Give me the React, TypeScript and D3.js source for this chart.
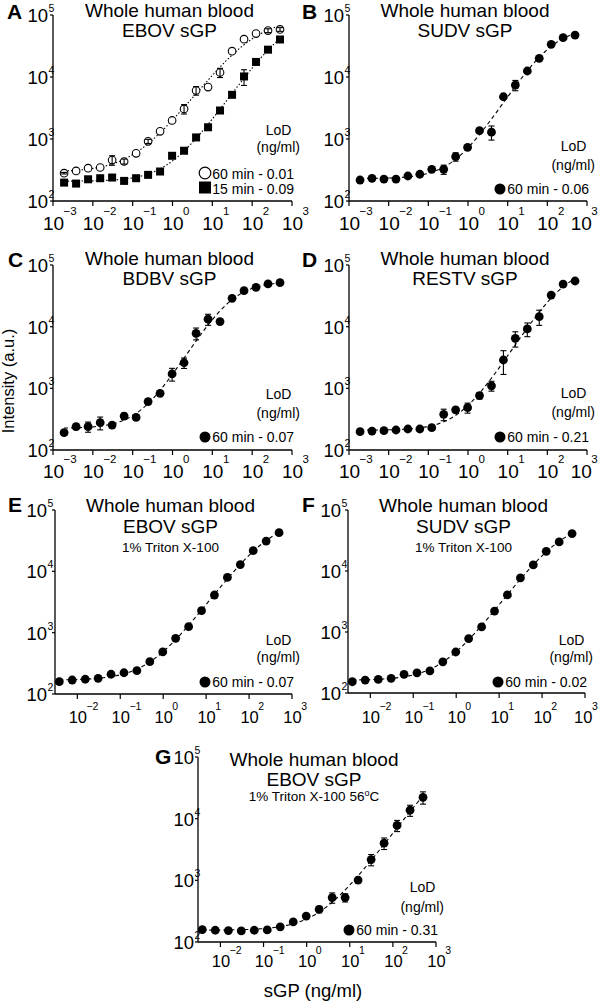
import React from "react";
import * as d3 from "d3";

const FONT = "'Liberation Sans', Arial, Helvetica, sans-serif";

// Two-fold dilution series of sGP (ng/ml)
const conc19 = [0.0019, 0.0038, 0.0076, 0.0153, 0.0305, 0.061, 0.122, 0.244, 0.488, 0.977, 1.95, 3.91, 7.81, 15.6, 31.3, 62.5, 125, 250, 500];
const conc18 = [0.0038, 0.0076, 0.0153, 0.0305, 0.061, 0.122, 0.244, 0.488, 0.977, 1.95, 3.91, 7.81, 15.6, 31.3, 62.5, 125, 250, 500];

// Intensity (a.u.) values and error bars
const a60 = [281, 306, 339, 347, 457, 434, 587, 917, 1330, 1990, 3060, 6060, 6880, 11800, 26100, 40800, 50200, 56000, 58500];
const a60Err = [8, 0, 0, 0, 80, 40, 0, 70, 0, 0, 530, 960, 0, 2000, 0, 0, 0, 4000, 4000];
const a15 = [198, 191, 224, 233, 239, 211, 233, 264, 299, 536, 647, 1060, 1545, 2880, 5160, 10200, 17500, 27600, 40300];
const a15Err = [0, 0, 0, 0, 0, 0, 0, 0, 0, 0, 0, 0, 0, 0, 0, 2900, 0, 0, 0];
const bVals = [218, 232, 226, 226, 253, 270, 324, 324, 519, 734, 1360, 1290, 4800, 7400, 12500, 20000, 33600, 43000, 47500];
const bErr = [0, 0, 0, 0, 0, 0, 0, 55, 80, 0, 0, 330, 0, 1400, 0, 0, 0, 0, 0];
const cVals = [191, 239, 239, 277, 254, 355, 338, 609, 830, 1710, 2600, 7800, 13200, 12100, 28800, 38300, 43400, 49300, 51600];
const cErr = [0, 25, 45, 65, 0, 40, 0, 60, 0, 400, 500, 1700, 2700, 0, 0, 0, 0, 0, 0];
const dVals = [198, 203, 206, 211, 219, 219, 230, 379, 446, 486, 762, 1100, 2880, 6460, 9180, 14500, 32500, 49000, 55000];
const dErr = [0, 0, 0, 0, 0, 0, 0, 80, 0, 90, 90, 200, 1200, 1800, 2300, 4000, 0, 0, 0];
const eVals = [159, 169, 174, 180, 210, 222, 240, 336, 485, 809, 1250, 2280, 4110, 7960, 12900, 21700, 31200, 42700];
const eErr = [0, 0, 0, 0, 0, 0, 0, 0, 0, 0, 0, 0, 0, 0, 0, 0, 0, 0];
const fVals = [153, 163, 167, 174, 202, 214, 231, 324, 470, 779, 1210, 2200, 4050, 7700, 12600, 21000, 30000, 41100];
const fErr = [0, 0, 0, 0, 0, 0, 0, 0, 0, 0, 0, 0, 0, 0, 0, 0, 0, 0];
const gVals = [159, 155, 153, 151, 155, 157, 176, 212, 263, 338, 525, 525, 1010, 2170, 4010, 7770, 13700, 22200];
const gErr = [0, 0, 0, 0, 0, 0, 0, 0, 0, 40, 100, 80, 0, 450, 850, 1600, 2800, 5000];

// Tick labels
const xTicks7 = [1e-3, 1e-2, 1e-1, 1, 10, 100, 1000];
const xExps7 = ["\u22123", "\u22122", "\u22121", "0", "1", "2", "3"];
const xTicks6 = [1e-2, 1e-1, 1, 10, 100, 1000];
const xExps6 = ["\u22122", "\u22121", "0", "1", "2", "3"];
const yTicks = [100, 1000, 10000, 100000];
const yExps = ["2", "3", "4", "5"];

// LoD legends
const lodA = ["60 min - 0.01", "15 min - 0.09"];
const lodB = ["60 min - 0.06"];
const lodC = ["60 min - 0.07"];
const lodD = ["60 min - 0.21"];
const lodE = ["60 min - 0.07"];
const lodF = ["60 min - 0.02"];
const lodG = ["60 min - 0.31"];

function fit4pl(xs: number[], ys: number[]) {
  const lx = xs.map(Math.log10);
  const ly = ys.map(Math.log10);
  const model = (p: number[], l: number) => {
    const b = Math.pow(10, p[0]);
    const t = Math.pow(10, p[1]);
    return Math.log10(b + (t - b) / (1 + Math.pow(10, p[3] * (p[2] - l))));
  };
  const loss = (p: number[]) => {
    let s = 0;
    for (let i = 0; i < lx.length; i++) {
      const d = model(p, lx[i]) - ly[i];
      s += d * d;
    }
    return isFinite(s) ? s : 1e9;
  };
  const lo = d3.min(ly) as number;
  const hi = d3.max(ly) as number;
  const midV = Math.log10((Math.pow(10, lo) + Math.pow(10, hi)) / 2);
  let bi = 0;
  ly.forEach((v, i) => {
    if (Math.abs(v - midV) < Math.abs(ly[bi] - midV)) bi = i;
  });
  const start = [lo, hi + 0.05, lx[bi], 1];
  const n = 4;
  const steps = [0.1, 0.1, 0.4, 0.3];
  let simplex: number[][] = [start];
  for (let i = 0; i < n; i++) {
    const p = start.slice();
    p[i] += steps[i];
    simplex.push(p);
  }
  let vals = simplex.map(loss);
  for (let it = 0; it < 4000; it++) {
    const idx = d3.range(n + 1).sort((a, b) => vals[a] - vals[b]);
    simplex = idx.map((i) => simplex[i]);
    vals = idx.map((i) => vals[i]);
    const cen = d3.range(n).map((j) => (d3.mean(simplex.slice(0, n), (p) => p[j]) as number));
    const w = simplex[n];
    const xr = cen.map((c, j) => c + (c - w[j]));
    const fr = loss(xr);
    if (fr < vals[0]) {
      const xe = cen.map((c, j) => c + 2 * (c - w[j]));
      const fe = loss(xe);
      if (fe < fr) { simplex[n] = xe; vals[n] = fe; } else { simplex[n] = xr; vals[n] = fr; }
    } else if (fr < vals[n - 1]) {
      simplex[n] = xr; vals[n] = fr;
    } else {
      const xc = cen.map((c, j) => c + 0.5 * (w[j] - c));
      const fc = loss(xc);
      if (fc < vals[n]) { simplex[n] = xc; vals[n] = fc; }
      else {
        for (let i = 1; i <= n; i++) {
          simplex[i] = simplex[i].map((v, j) => simplex[0][j] + 0.5 * (v - simplex[0][j]));
          vals[i] = loss(simplex[i]);
        }
      }
    }
  }
  const best = simplex[d3.minIndex(vals)];
  const l0 = lx[0], l1 = lx[lx.length - 1];
  return d3.range(0, 121).map((i) => {
    const l = l0 + ((l1 - l0) * i) / 120;
    return [Math.pow(10, l), Math.pow(10, model(best, l))] as [number, number];
  });
}

type Series = { xs: number[]; ys: number[]; err: number[]; marker: string; dash: string };

type PanelCfg = {
  letter: string; lx: number; ly: number;
  x0: number; x1: number; yTop: number; yBot: number; xMin: number;
  xTicks: number[]; xExps: string[]; xFont: number; xSup: number; xDy: number; xSupDy: number;
  yGap: number;
  titles: string[]; titleDy: number[]; subText?: string; subDegree?: boolean;
  series: Series[];
  legend: string[]; legendMarkers: string[];
  lodDy: number; ngDy: number; rowDy: number[];
};

const panels: PanelCfg[] = [
  {
    letter: "A", lx: 7, ly: 19, x0: 53, x1: 292, yTop: 15, yBot: 201, xMin: 1e-3,
    xTicks: xTicks7, xExps: xExps7, xFont: 19, xSup: 11.5, xDy: 29, xSupDy: 15, yGap: 5,
    titles: ["Whole human blood", "EBOV sGP"], titleDy: [2, 22],
    series: [
      { xs: conc19, ys: a60, err: a60Err, marker: "open", dash: "1.5 2" },
      { xs: conc19, ys: a15, err: a15Err, marker: "square", dash: "1.5 2" },
    ],
    legend: lodA, legendMarkers: ["open", "square"], lodDy: -66, ngDy: -49, rowDy: [-22, -7],
  },
  {
    letter: "B", lx: 302, ly: 19, x0: 349, x1: 587, yTop: 15, yBot: 201, xMin: 1e-3,
    xTicks: xTicks7, xExps: xExps7, xFont: 19, xSup: 11.5, xDy: 29, xSupDy: 15, yGap: 5,
    titles: ["Whole human blood", "SUDV sGP"], titleDy: [2, 22],
    series: [{ xs: conc19, ys: bVals, err: bErr, marker: "circle", dash: "4 3" }],
    legend: lodB, legendMarkers: ["circle"], lodDy: -50, ngDy: -31, rowDy: [-7],
  },
  {
    letter: "C", lx: 8, ly: 267, x0: 53, x1: 292, yTop: 265, yBot: 450, xMin: 1e-3,
    xTicks: xTicks7, xExps: xExps7, xFont: 19, xSup: 11.5, xDy: 28, xSupDy: 15, yGap: 5,
    titles: ["Whole human blood", "BDBV sGP"], titleDy: [0, 20],
    series: [{ xs: conc19, ys: cVals, err: cErr, marker: "circle", dash: "4 3" }],
    legend: lodC, legendMarkers: ["circle"], lodDy: -51, ngDy: -32, rowDy: [-8],
  },
  {
    letter: "D", lx: 302, ly: 267, x0: 349, x1: 587, yTop: 265, yBot: 450, xMin: 1e-3,
    xTicks: xTicks7, xExps: xExps7, xFont: 19, xSup: 11.5, xDy: 28, xSupDy: 15, yGap: 5,
    titles: ["Whole human blood", "RESTV sGP"], titleDy: [0, 20],
    series: [{ xs: conc19, ys: dVals, err: dErr, marker: "circle", dash: "4 3" }],
    legend: lodD, legendMarkers: ["circle"], lodDy: -52, ngDy: -33, rowDy: [-8],
  },
  {
    letter: "E", lx: 8, ly: 512, x0: 55, x1: 292, yTop: 510, yBot: 694, xMin: 0.00302,
    xTicks: xTicks6, xExps: xExps6, xFont: 16.5, xSup: 10.5, xDy: 29, xSupDy: 13, yGap: 8,
    titles: ["Whole human blood", "EBOV sGP"], titleDy: [2, 23], subText: "1% Triton X-100",
    series: [{ xs: conc18, ys: eVals, err: eErr, marker: "circle", dash: "4 3" }],
    legend: lodE, legendMarkers: ["circle"], lodDy: -49, ngDy: -32, rowDy: [-7],
  },
  {
    letter: "F", lx: 302, ly: 512, x0: 348, x1: 585, yTop: 510, yBot: 693, xMin: 0.00302,
    xTicks: xTicks6, xExps: xExps6, xFont: 16.5, xSup: 10.5, xDy: 30, xSupDy: 13, yGap: 7,
    titles: ["Whole human blood", "SUDV sGP"], titleDy: [2, 23], subText: "1% Triton X-100",
    series: [{ xs: conc18, ys: fVals, err: fErr, marker: "circle", dash: "4 3" }],
    legend: lodF, legendMarkers: ["circle"], lodDy: -48, ngDy: -31, rowDy: [-6],
  },
  {
    letter: "G", lx: 155, ly: 764, x0: 198, x1: 436, yTop: 757, yBot: 942, xMin: 0.00302,
    xTicks: xTicks6, xExps: xExps6, xFont: 16.5, xSup: 10.5, xDy: 25, xSupDy: 13, yGap: 4,
    titles: ["Whole human blood", "EBOV sGP"], titleDy: [9, 29], subText: "1% Triton X-100 56", subDegree: true,
    series: [{ xs: conc18, ys: gVals, err: gErr, marker: "circle", dash: "4 3" }],
    legend: lodG, legendMarkers: ["circle"], lodDy: -50, ngDy: -30, rowDy: [-7],
  },
];

function Marker({ kind, cx, cy, size }: { kind: string; cx: number; cy: number; size: number }) {
  if (kind === "open") return <circle cx={cx} cy={cy} r={size} fill="#fff" stroke="#000" strokeWidth={1.1} />;
  if (kind === "square") return <rect x={cx - size} y={cy - size} width={size * 2} height={size * 2} fill="#000" />;
  return <circle cx={cx} cy={cy} r={size} fill="#000" />;
}

function Panel({ p }: { p: PanelCfg }) {
  const x = d3.scaleLog().domain([p.xMin, 1000]).range([p.x0, p.x1]);
  const y = d3.scaleLog().domain([100, 100000]).range([p.yBot, p.yTop]);
  const mid = (p.x0 + p.x1) / 2 - 3;
  const line = d3.line<[number, number]>().x((d) => x(d[0])).y((d) => y(d[1]));
  const lineRight = p.x1 + 8;
  const rowRight = p.x1 + 2;
  const mainW = 1.112 * p.xFont;
  return (
    <g fontFamily={FONT} fill="#000">
      {/* axes */}
      <line x1={p.x0} x2={p.x0} y1={p.yTop} y2={p.yBot} stroke="#000" strokeWidth={1.3} />
      <line x1={p.x0} x2={p.x1} y1={p.yBot} y2={p.yBot} stroke="#000" strokeWidth={1.3} />
      {yTicks.map((t, i) => (
        <g key={"y" + i}>
          <line x1={p.x0 - 3} x2={p.x0} y1={y(t)} y2={y(t)} stroke="#000" strokeWidth={1.2} />
          <text x={p.x0 - p.yGap} y={y(t) + 7} fontSize={18.5} textAnchor="end">10</text>
          <text x={p.x0 - p.yGap + 0.5} y={y(t) - 3} fontSize={10.5}>{yExps[i]}</text>
        </g>
      ))}
      {p.xTicks.map((t, i) => {
        const supW = 0.58 * p.xSup * p.xExps[i].length;
        const shift = Math.min(0, 598 - (x(t) + mainW / 2 + supW));
        const cx = x(t) + shift;
        return (
          <g key={"x" + i}>
            <line x1={x(t)} x2={x(t)} y1={p.yBot} y2={p.yBot + 5} stroke="#000" strokeWidth={1.2} />
            <text x={cx + 0.5} y={p.yBot + p.xDy} fontSize={p.xFont} textAnchor="middle">10</text>
            <text x={cx + mainW / 2} y={p.yBot + p.xDy - p.xSupDy} fontSize={p.xSup}>{p.xExps[i]}</text>
          </g>
        );
      })}
      {/* fits */}
      {p.series.map((s, k) => (
        <path key={"f" + k} d={line(fit4pl(s.xs, s.ys)) || ""} fill="none" stroke="#000" strokeWidth={1.1} strokeDasharray={s.dash} />
      ))}
      {/* points */}
      {p.series.map((s, k) => (
        <g key={"s" + k}>
          {s.xs.map((xv, i) => (
            <Marker key={i} kind={s.marker} cx={x(xv)} cy={y(s.ys[i])} size={s.marker === "open" ? 3.8 : s.marker === "square" ? 4 : 4.4} />
          ))}
          {s.xs.map((xv, i) =>
            s.err[i] > 0 ? (
              <g key={"e" + i} stroke="#000" strokeWidth={1.1}>
                <line x1={x(xv)} x2={x(xv)} y1={y(s.ys[i] + s.err[i])} y2={y(s.ys[i] - s.err[i])} />
                <line x1={x(xv) - 3} x2={x(xv) + 3} y1={y(s.ys[i] + s.err[i])} y2={y(s.ys[i] + s.err[i])} />
                <line x1={x(xv) - 3} x2={x(xv) + 3} y1={y(s.ys[i] - s.err[i])} y2={y(s.ys[i] - s.err[i])} />
              </g>
            ) : null
          )}
        </g>
      ))}
      {/* titles */}
      <text x={p.lx} y={p.ly} fontSize={21} fontWeight="bold">{p.letter}</text>
      {p.titles.map((t, i) => (
        <text key={"t" + i} x={mid} y={p.yTop + p.titleDy[i]} fontSize={19} textAnchor="middle">{t}</text>
      ))}
      {p.subText ? (
        <text x={mid} y={p.yTop + p.titleDy[1] + (p.subDegree ? 15 : 19)} fontSize={13.5} textAnchor="middle">
          {p.subText}
          {p.subDegree ? (
            <>
              <tspan dy={-5} fontSize={9}>o</tspan>
              <tspan dy={5}>C</tspan>
            </>
          ) : null}
        </text>
      ) : null}
      {/* legend */}
      <text x={lineRight - 21.5} y={p.yBot + p.lodDy} fontSize={14} textAnchor="middle">LoD</text>
      <text x={lineRight} y={p.yBot + p.ngDy} fontSize={14} textAnchor="end">(ng/ml)</text>
      {p.legend.map((lab, i) => {
        const by = p.yBot + p.rowDy[i];
        const mk = p.legendMarkers[i];
        const mx = rowRight - 89;
        return (
          <g key={"l" + i}>
            {mk === "open" ? (
              <circle cx={mx} cy={by - 6} r={5.8} fill="#fff" stroke="#000" strokeWidth={1.2} />
            ) : mk === "square" ? (
              <rect x={mx - 6} y={by - 12.5} width={12} height={12} fill="#000" />
            ) : (
              <circle cx={mx} cy={by - 5} r={5.5} fill="#000" />
            )}
            <text x={rowRight} y={by} fontSize={14} textAnchor="end">{lab}</text>
          </g>
        );
      })}
    </g>
  );
}

export default function App() {
  return (
    <svg width={600} height={1002} style={{ position: "absolute", left: 0, top: 0, background: "#fff" }}>
      <rect width={600} height={1002} fill="#fff" />
      {panels.map((p) => (
        <Panel key={p.letter} p={p} />
      ))}
      <text transform="translate(14,381) rotate(-90)" fontFamily={FONT} fontSize={16.5} textAnchor="middle">Intensity (a.u.)</text>
      <text x={313} y={997} fontFamily={FONT} fontSize={18.5} textAnchor="middle">sGP (ng/ml)</text>
    </svg>
  );
}
